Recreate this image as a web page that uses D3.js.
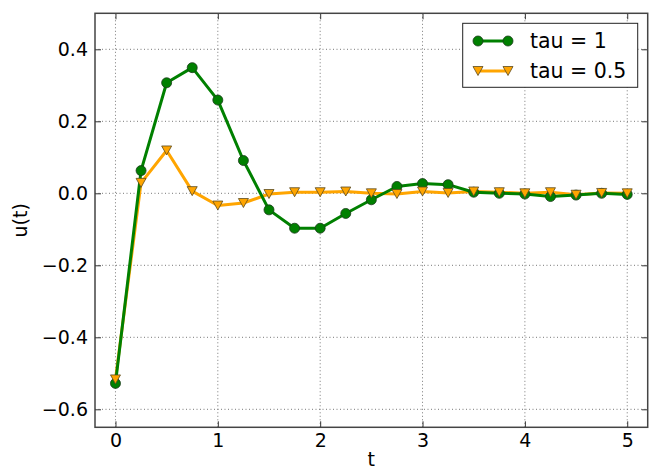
<!DOCTYPE html>
<html>
<head>
<meta charset="utf-8">
<script src="https://cdn.jsdelivr.net/npm/d3@7"></script>
<style>
  body { margin: 0; background: #fff; }
  text { font-family: "DejaVu Sans", sans-serif; fill: #000; }
</style>
</head>
<body>
<svg id="chart"></svg>
<script>
// sample times and the two responses
let times = [0, 0.25, 0.5, 0.75, 1, 1.25, 1.5, 1.75, 2, 2.25, 2.5, 2.75, 3, 3.25, 3.5, 3.75, 4, 4.25, 4.5, 4.75, 5]
let tau1 = [-0.528, 0.063, 0.307, 0.349, 0.259, 0.091, -0.046, -0.097, -0.097, -0.056, -0.018, 0.019, 0.027, 0.024, 0.003, 0.0, -0.002, -0.009, -0.005, 0.0, -0.003]
let tau05 = [-0.517, 0.029, 0.119, 0.006, -0.034, -0.027, -0.002, 0.003, 0.003, 0.005, 0.0, -0.002, 0.005, 0.001, 0.005, 0.003, 0.0, 0.003, -0.004, 0.001, 0.0]
let xTicks = [0, 1, 2, 3, 4, 5]
let yTicks = [-0.6, -0.4, -0.2, 0.0, 0.2, 0.4]
let seriesNames = ['tau = 1', 'tau = 0.5']

let width = 649
let height = 469
let padL = 95, padR = 647.7, padT = 13.3, padB = 427.3

let svg = d3.select('#chart').attr('width', width).attr('height', height)

let xScale = d3.scaleLinear().domain([-0.2, 5.2]).range([padL, padR])
let yScale = d3.scaleLinear().domain([-0.65, 0.5]).range([padB, padT])

// grid
let grid = svg.append('g')
grid.selectAll('.gx').data(xTicks).enter().append('line')
    .attr('x1', d => xScale(d)).attr('x2', d => xScale(d))
    .attr('y1', padT).attr('y2', padB)
    .attr('stroke', '#777').attr('stroke-width', 1).attr('stroke-dasharray', '1,2.5')
grid.selectAll('.gy').data(yTicks).enter().append('line')
    .attr('y1', d => yScale(d)).attr('y2', d => yScale(d))
    .attr('x1', padL).attr('x2', padR)
    .attr('stroke', '#777').attr('stroke-width', 1).attr('stroke-dasharray', '1,2.5')

// axes (ticks inside, on all four sides)
let fmtY = d => d3.format('.1f')(d).replace('-', '\u2212')
let tl = 6
svg.append('g').attr('transform', 'translate(0,' + padB + ')')
    .call(d3.axisBottom(xScale).tickValues(xTicks).tickSizeInner(-tl).tickSizeOuter(0).tickPadding(6).tickFormat(d3.format('d')))
svg.append('g').attr('transform', 'translate(0,' + padT + ')')
    .call(d3.axisTop(xScale).tickValues(xTicks).tickSizeInner(-tl).tickSizeOuter(0).tickFormat(''))
svg.append('g').attr('transform', 'translate(' + padL + ',0)')
    .call(d3.axisLeft(yScale).tickValues(yTicks).tickSizeInner(-tl).tickSizeOuter(0).tickPadding(7).tickFormat(fmtY))
svg.append('g').attr('transform', 'translate(' + padR + ',0)')
    .call(d3.axisRight(yScale).tickValues(yTicks).tickSizeInner(-tl).tickSizeOuter(0).tickFormat(''))
svg.selectAll('.domain').remove()
svg.selectAll('.tick line').attr('stroke', '#333').attr('stroke-width', 1)
svg.selectAll('.tick text').style('font-size', '19px').style('font-family', '"DejaVu Sans", sans-serif')

svg.append('rect').attr('x', padL).attr('y', padT)
    .attr('width', padR - padL).attr('height', padB - padT)
    .attr('fill', 'none').attr('stroke', '#444').attr('stroke-width', 1.5)

// lines
let line = d3.line().x((d, i) => xScale(times[i])).y(d => yScale(d))
svg.append('path').datum(tau05).attr('d', line)
    .attr('fill', 'none').attr('stroke', 'orange').attr('stroke-width', 3).attr('stroke-linejoin', 'round')
svg.append('path').datum(tau1).attr('d', line)
    .attr('fill', 'none').attr('stroke', 'green').attr('stroke-width', 3).attr('stroke-linejoin', 'round')

let tri = 'M-5,-4.5L5,-4.5L0,4.5Z'

svg.selectAll('.c1').data(tau1).enter().append('circle')
    .attr('cx', (d, i) => xScale(times[i])).attr('cy', d => yScale(d)).attr('r', 5)
    .attr('fill', 'green').attr('stroke', '#1a3a1a').attr('stroke-width', 0.8)
svg.selectAll('.t2').data(tau05).enter().append('path')
    .attr('d', tri)
    .attr('transform', (d, i) => 'translate(' + xScale(times[i]) + ',' + yScale(d) + ')')
    .attr('fill', 'orange').attr('stroke', '#5a4a20').attr('stroke-width', 0.8)

// axis labels
svg.append('text').attr('x', (padL + padR) / 2).attr('y', 466)
    .attr('text-anchor', 'middle').style('font-size', '19px').text('t')
svg.append('text').attr('transform', 'translate(27,' + (padT + padB) / 2 + ') rotate(-90)')
    .attr('text-anchor', 'middle').style('font-size', '19px').text('u(t)')

// legend
let lg = svg.append('g')
lg.append('rect').attr('x', 462.7).attr('y', 23.3).attr('width', 175).attr('height', 64)
    .attr('fill', '#fff').attr('stroke', '#222').attr('stroke-width', 1)
let rows = [{c: 'green', y: 41}, {c: 'orange', y: 71}]
rows.forEach(function(r, k) {
    lg.append('line').attr('x1', 478).attr('x2', 508).attr('y1', r.y).attr('y2', r.y)
        .attr('stroke', r.c).attr('stroke-width', 3)
    ;[478, 508].forEach(function(mx) {
        if (k === 0) {
            lg.append('circle').attr('cx', mx).attr('cy', r.y).attr('r', 5)
                .attr('fill', 'green').attr('stroke', '#1a3a1a').attr('stroke-width', 0.8)
        } else {
            lg.append('path').attr('d', tri).attr('transform', 'translate(' + mx + ',' + r.y + ')')
                .attr('fill', 'orange').attr('stroke', '#5a4a20').attr('stroke-width', 0.8)
        }
    })
    lg.append('text').attr('x', 530).attr('y', r.y + 7.3).style('font-size', '20.5px').text(seriesNames[k])
})
</script>
</body>
</html>
